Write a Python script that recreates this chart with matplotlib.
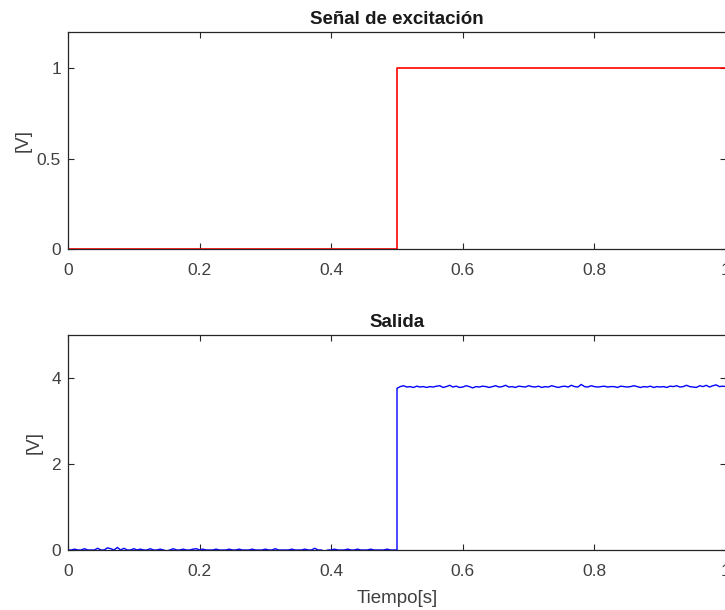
import numpy as np
import matplotlib
matplotlib.use("Agg")
import matplotlib.pyplot as plt

plt.rcParams['font.family'] = ['Liberation Sans', 'DejaVu Sans']

# ---- data ----
step_time = [0.0, 0.5, 0.5, 1.0]
step_value = [0.0, 0.0, 1.0, 1.0]

out_low = [0.00, 0.00, 0.02, 0.00, 0.00, 0.03, 0.00, 0.00, 0.00, 0.04,
           0.00, 0.00, 0.05, 0.03, 0.00, 0.06, 0.00, 0.04, 0.00, 0.00,
           0.03, 0.00, 0.02, 0.00, 0.00, 0.03, 0.00, 0.00, 0.02, 0.00,
           -0.02, 0.00, 0.03, 0.00, 0.00, 0.02, 0.00, 0.00, 0.02, 0.03,
           0.00, 0.02, 0.00, 0.00, 0.00, 0.02, 0.00, 0.00, 0.00, 0.02,
           0.00, 0.00, 0.02, 0.00, 0.00, 0.00, 0.02, 0.00, 0.00, 0.00,
           0.02, 0.00, 0.00, 0.03, 0.00, 0.00, 0.00, 0.00, 0.02, 0.00,
           0.00, 0.00, 0.02, 0.00, 0.00, 0.04, 0.00, 0.00, -0.03, 0.00,
           0.00, 0.02, 0.00, 0.00, 0.00, 0.02, 0.00, 0.00, 0.02, 0.00,
           0.00, 0.00, 0.02, 0.00, 0.00, 0.00, 0.00, 0.02, 0.00, 0.00,
           0.00]
out_high = [3.76, 3.80, 3.82, 3.79, 3.80, 3.78, 3.81, 3.79, 3.80, 3.78,
            3.80, 3.79, 3.81, 3.82, 3.78, 3.80, 3.83, 3.79, 3.81, 3.78,
            3.79, 3.82, 3.80, 3.77, 3.80, 3.79, 3.81, 3.80, 3.78, 3.80,
            3.82, 3.79, 3.80, 3.83, 3.79, 3.80, 3.78, 3.81, 3.80, 3.79,
            3.82, 3.80, 3.79, 3.81, 3.78, 3.80, 3.79, 3.82, 3.80, 3.78,
            3.80, 3.81, 3.79, 3.83, 3.80, 3.79, 3.85, 3.80, 3.79, 3.82,
            3.80, 3.79, 3.80, 3.81, 3.79, 3.80, 3.80, 3.78, 3.81, 3.80,
            3.79, 3.80, 3.82, 3.80, 3.78, 3.80, 3.79, 3.81, 3.78, 3.80,
            3.79, 3.80, 3.78, 3.81, 3.80, 3.82, 3.79, 3.80, 3.83, 3.80,
            3.79, 3.78, 3.82, 3.80, 3.83, 3.79, 3.82, 3.84, 3.80, 3.81,
            3.80]

x_ticks = [0, 0.2, 0.4, 0.6, 0.8, 1]
top_yticks = [0, 0.5, 1]
bot_yticks = [0, 2, 4]

out_time = np.concatenate([np.linspace(0, 0.5, len(out_low)),
                           np.linspace(0.5, 1.0, len(out_high))])
out_value = np.concatenate([out_low, out_high])

W, H = 725, 610
fig = plt.figure(figsize=(W / 100, H / 100), dpi=100)

axc = '#262626'

def style(ax):
    for s in ax.spines.values():
        s.set_color(axc)
        s.set_linewidth(0.9)
    ax.tick_params(direction='in', top=True, right=True, length=4.5,
                   width=0.8, color=axc, labelcolor='#404040', labelsize=12.5,
                   pad=5)
    ax.tick_params(axis='x', pad=10)
    ax.set_xlim(0, 1)
    ax.set_xticks(x_ticks)
    ax.set_xticklabels(['0', '0.2', '0.4', '0.6', '0.8', '1'])

ax1 = fig.add_axes([68 / W, 1 - 249 / H, (726 - 68) / W, (249 - 32) / H])
ax1.plot(step_time, step_value, color='#ff0000', lw=1.2)
style(ax1)
ax1.set_ylim(0, 1.2)
ax1.set_yticks(top_yticks)
ax1.set_yticklabels(['0', '0.5', '1'])
ax1.set_ylabel('[V]', fontsize=13.5, color='#404040')
ax1.yaxis.set_label_coords(-0.056, 0.5)
ax1.set_title('Señal de excitación', fontsize=13.5, fontweight='bold',
              color='#1a1a1a', pad=6)

ax2 = fig.add_axes([68 / W, 1 - 550 / H, (726 - 68) / W, (550 - 335) / H])
ax2.plot(out_time, out_value, color='#0000ff', lw=1.0)
style(ax2)
ax2.set_ylim(0, 5)
ax2.set_yticks(bot_yticks)
ax2.set_yticklabels(['0', '2', '4'])
ax2.set_ylabel('[V]', fontsize=13.5, color='#404040')
ax2.yaxis.set_label_coords(-0.038, 0.5)
ax2.set_xlabel('Tiempo[s]', fontsize=13.5, color='#404040', labelpad=8)
ax2.set_title('Salida', fontsize=13.5, fontweight='bold', color='#1a1a1a', pad=6)

fig.savefig('out.png', dpi=100)
